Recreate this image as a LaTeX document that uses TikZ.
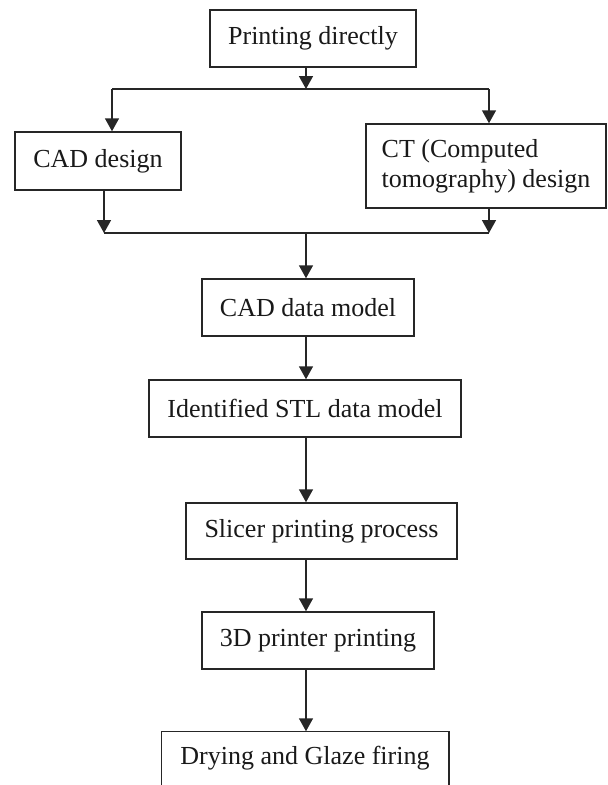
\documentclass[tikz,border=0pt]{standalone}
\usepackage{fontspec}
\setmainfont{Liberation Serif}
\usetikzlibrary{arrows.meta}
\begin{document}
\begin{tikzpicture}[x=1pt,y=-1pt,
  box/.style={draw=black!85, line width=1.5pt, inner sep=0pt, minimum height=57pt,
    font=\fontsize{26}{30}\selectfont, text=black!90},
  arr/.style={draw=black!85, line width=1.5pt, -{Triangle[width=14pt,length=13pt]}},
  ln/.style={draw=black!85, line width=1.5pt}]
\useasboundingbox (0,0) rectangle (608,785);
\fill[white] (0,0) rectangle (608,785);
% nodes
\node[box, minimum width=206pt] (pd) at (313,38.5) {Printing directly};
\node[box, minimum width=166pt, minimum height=58pt] (cad) at (98,161) {CAD design};
\node[box, minimum width=240pt, minimum height=84pt, align=left] (ct) at (486,166) {CT (Computed\\tomography) design};
\node[box, minimum width=212pt] (cdm) at (308,307.5) {CAD data model};
\node[box, minimum width=312pt] (stl) at (305,408.5) {Identified STL data model};
\node[box, minimum width=271pt, minimum height=56pt] (sl) at (321.5,531) {Slicer printing process};
\node[box, minimum width=232pt] (pp) at (318,640.5) {3D printer printing};
\node[box, draw=none, minimum width=286pt, minimum height=53pt] (dry) at (305,758.5) {Drying and Glaze firing};
\draw[ln] (dry.south west) -- (dry.north west) -- (dry.north east) -- (dry.south east);
% split
\coordinate (s1) at (306,89);
\coordinate (l1) at (112,89);
\coordinate (r1) at (489,89);
\draw[arr] (pd.south -| s1) -- (s1);
\draw[ln] (l1) -- (r1);
\draw[arr] (l1) -- (l1 |- cad.north);
\draw[arr] (r1) -- (r1 |- ct.north);
% merge
\coordinate (l2) at (104,233);
\coordinate (r2) at (489,233);
\coordinate (m2) at (306,233);
\draw[arr] (l2 |- cad.south) -- (l2);
\draw[arr] (r2 |- ct.south) -- (r2);
\draw[ln] (l2) -- (r2);
\draw[arr] (m2) -- (m2 |- cdm.north);
% chain
\draw[arr] (cdm.south -| m2) -- (stl.north -| m2);
\draw[arr] (stl.south -| m2) -- (sl.north -| m2);
\draw[arr] (sl.south -| m2) -- (pp.north -| m2);
\draw[arr] (pp.south -| m2) -- (dry.north -| m2);
\end{tikzpicture}
\end{document}
